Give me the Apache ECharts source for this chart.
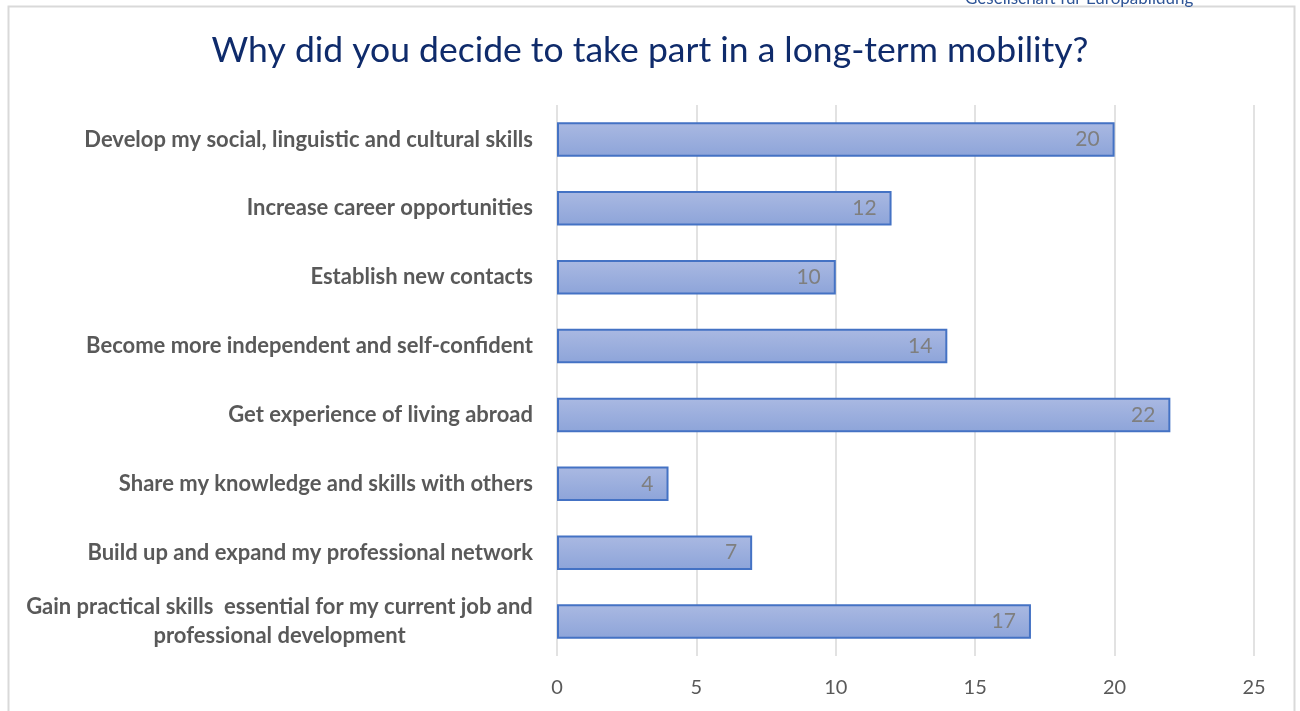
<!DOCTYPE html>
<html><head><meta charset="utf-8">
<script src="https://cdn.jsdelivr.net/npm/echarts@6/dist/echarts.min.js"></script>
<style>html,body{margin:0;padding:0;background:#fff}#c{width:1300px;height:711px}</style>
</head><body><div id="c"></div>
<script>
const categories = [
  "Develop my social, linguistic and cultural skills",
  "Increase career opportunities",
  "Establish new contacts",
  "Become more independent and self-confident",
  "Get experience of living abroad",
  "Share my knowledge and skills with others",
  "Build up and expand my professional network",
  "Gain practical skills  essential for my current job and\nprofessional development"
];
const values = [20, 12, 10, 14, 22, 4, 7, 17];
const xTicks = [0, 5, 10, 15, 20, 25];
const titleText = "Why did you decide to take part in a long-term mobility?";
const headerText = "Gesellschaft für Europabildung";

const ctx = document.createElement('canvas').getContext('2d');
ctx.font = 'bold 22px Lato';
let blockW = 0;
categories.forEach(c => {
  if (c.includes('\n')) c.split('\n').forEach(l => { blockW = Math.max(blockW, Math.ceil(ctx.measureText(l).width)); });
});
function fmtLabel(v) {
  const lines = v.split('\n');
  if (lines.length === 1) return '{a|' + v + '}';
  return lines.map(l => '{c|' + l + '}').join('\n');
}

const chart = echarts.init(document.getElementById('c'));
const baseRich = {fontSize: 22, fontWeight: 'bold', fontFamily: 'Lato', color: '#595959', lineHeight: 29};
chart.setOption({
  animation: false,
  backgroundColor: '#fff',
  title: {
    text: titleText, left: 'center', top: 28,
    textStyle: {fontFamily: 'Lato', fontWeight: 'normal', fontSize: 35.5, color: '#0F2B6B'}
  },
  graphic: [
    {type: 'rect', shape: {x: 8.5, y: 6.5, width: 1286, height: 720}, style: {fill: 'none', stroke: '#D9D9D9', lineWidth: 2}, silent: true},
    {type: 'text', left: 965, top: -10, style: {text: headerText, fill: '#2F5597', font: '17px Lato'}}
  ],
  grid: {left: 557, right: 46, top: 105, bottom: 55},
  xAxis: {
    type: 'value', min: 0, max: 25, interval: 5,
    axisLine: {show: false}, axisTick: {show: false},
    splitLine: {lineStyle: {color: '#D9D9D9', width: 1.5}},
    axisLabel: {margin: 22, color: '#595959', fontSize: 20, fontFamily: 'Lato',
      formatter: v => xTicks.includes(v) ? String(v) : ''}
  },
  yAxis: {
    type: 'category', data: categories, inverse: true,
    axisLine: {show: false}, axisTick: {show: false},
    axisLabel: {margin: 24, align: 'right', formatter: fmtLabel,
      rich: {a: Object.assign({}, baseRich), c: Object.assign({}, baseRich, {width: blockW, align: 'center'})}}
  },
  series: [{
    type: 'bar', data: values, barWidth: '50%',
    itemStyle: {
      color: new echarts.graphic.LinearGradient(0, 0, 0, 1, [{offset: 0, color: '#AAB9E2'}, {offset: 1, color: '#8DA4D9'}]),
      borderColor: '#4472C4', borderWidth: 2
    },
    label: {show: true, position: 'insideRight', distance: 15, color: '#7F7F7F', fontSize: 21, fontFamily: 'Lato'}
  }]
});
</script></body></html>
